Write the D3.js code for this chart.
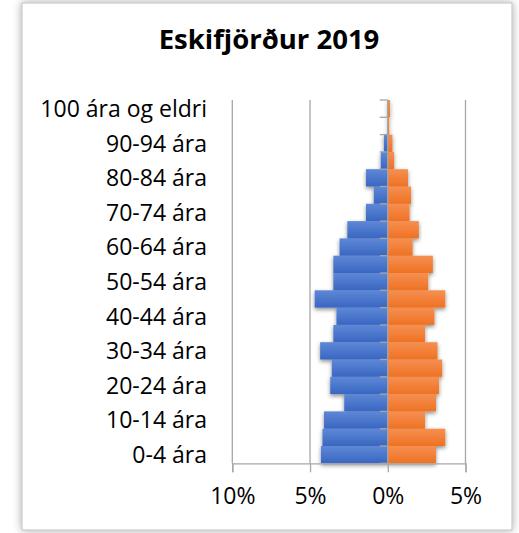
<!DOCTYPE html>
<html>
<head>
<meta charset="utf-8">
<script src="https://cdn.jsdelivr.net/npm/d3@7"></script>
<style>
  body { margin: 0; background: #ffffff; }
  text { font-family: 'Open Sans', sans-serif; }
</style>
</head>
<body>
<svg width="519" height="533"></svg>
<script>
// Data (share of population, %), from youngest to oldest
const age_groups = ['0-4 ára', '5-9 ára', '10-14 ára', '15-19 ára', '20-24 ára', '25-29 ára',
    '30-34 ára', '35-39 ára', '40-44 ára', '45-49 ára', '50-54 ára', '55-59 ára', '60-64 ára',
    '65-69 ára', '70-74 ára', '75-79 ára', '80-84 ára', '85-89 ára', '90-94 ára', '95-99 ára',
    '100 ára og eldri'];
const male = [4.3, 4.2, 4.1, 2.8, 3.7, 3.6, 4.35, 3.5, 3.3, 4.7, 3.5, 3.5, 3.1,
    2.6, 1.4, 0.9, 1.4, 0.45, 0.25, 0, 0];
const female = [3.1, 3.7, 2.4, 3.1, 3.3, 3.5, 3.2, 2.4, 3.0, 3.7, 2.6, 2.9, 1.6,
    2.0, 1.4, 1.5, 1.3, 0.4, 0.3, 0.1, 0.15];
const x_ticks = [-10, -5, 0, 5];
const chart_title = 'Eskifjörður 2019';

// Constants
const svg = d3.select('svg');
const width = +svg.attr('width');
const height = +svg.attr('height');
const plot = { left: 232.3, right: 465.5, top: 100, bottom: 463.3 };
const grid_color = '#a6a6a6';

const defs = svg.append('defs');
const frame_shadow = defs.append('filter').attr('id', 'frame-shadow')
    .attr('x', '-10%').attr('y', '-10%').attr('width', '120%').attr('height', '120%');
frame_shadow.append('feDropShadow')
    .attr('dx', 0).attr('dy', 0).attr('stdDeviation', 4)
    .attr('flood-color', '#000').attr('flood-opacity', 0.35);

const bar_shadow = defs.append('filter').attr('id', 'bar-shadow')
    .attr('x', '-20%').attr('y', '-40%').attr('width', '140%').attr('height', '180%');
bar_shadow.append('feDropShadow')
    .attr('dx', 0).attr('dy', 2).attr('stdDeviation', 2)
    .attr('flood-color', '#000').attr('flood-opacity', 0.45);

const gradients = [
    { id: 'grad-male', top: '#5e88d6', bottom: '#3966c2' },
    { id: 'grad-female', top: '#f68f52', bottom: '#ee7222' }
];
gradients.forEach(g => {
    const lg = defs.append('linearGradient').attr('id', g.id)
        .attr('x1', 0).attr('y1', 0).attr('x2', 0).attr('y2', 1);
    lg.append('stop').attr('offset', '0%').attr('stop-color', g.top);
    lg.append('stop').attr('offset', '100%').attr('stop-color', g.bottom);
});

// Frame
svg.append('rect')
    .attr('x', 22).attr('y', 3)
    .attr('width', 490).attr('height', 527)
    .attr('fill', '#ffffff')
    .attr('stroke', '#bfbfbf')
    .attr('stroke-width', 1)
    .attr('filter', 'url(#frame-shadow)');

// Title
svg.append('text')
    .attr('x', 269)
    .attr('y', 49)
    .attr('text-anchor', 'middle')
    .attr('font-size', '27.5px')
    .attr('font-weight', 'bold')
    .attr('fill', '#000')
    .text(chart_title);

// Scales
const xScale = d3.scaleLinear()
    .domain([-10, 5])
    .range([plot.left, plot.right]);

const yScale = d3.scaleBand()
    .domain(age_groups)
    .range([plot.bottom, plot.top])
    .padding(0);

// Gridlines
svg.append('g')
    .selectAll('line')
    .data(x_ticks)
    .enter().append('line')
    .attr('x1', d => xScale(d)).attr('x2', d => xScale(d))
    .attr('y1', plot.top).attr('y2', plot.bottom)
    .attr('stroke', grid_color)
    .attr('stroke-width', 1.3);

// Bars
const rows = age_groups.map((g, i) => ({ group: g, male: male[i], female: female[i] }));
const bars = svg.append('g').attr('filter', 'url(#bar-shadow)');
bars.selectAll('.bar-male')
    .data(rows)
    .enter().append('rect')
    .attr('class', 'bar-male')
    .attr('x', d => xScale(-d.male))
    .attr('y', d => yScale(d.group))
    .attr('width', d => xScale(0) - xScale(-d.male))
    .attr('height', yScale.bandwidth())
    .attr('fill', 'url(#grad-male)');
bars.selectAll('.bar-female')
    .data(rows)
    .enter().append('rect')
    .attr('class', 'bar-female')
    .attr('x', xScale(0))
    .attr('y', d => yScale(d.group))
    .attr('width', d => xScale(d.female) - xScale(0))
    .attr('height', yScale.bandwidth())
    .attr('fill', 'url(#grad-female)');

// Category axis at 0%
const cat_axis = svg.append('g')
    .attr('transform', `translate(${xScale(0)}, 0)`);
cat_axis.append('line')
    .attr('y1', plot.top).attr('y2', plot.bottom)
    .attr('stroke', grid_color).attr('stroke-width', 1.3);
const boundaries = age_groups.map(g => yScale(g)).concat([plot.bottom]);
cat_axis.selectAll('.cat-tick')
    .data(boundaries)
    .enter().append('line')
    .attr('class', 'cat-tick')
    .attr('x1', -8).attr('x2', 0)
    .attr('y1', d => d).attr('y2', d => d)
    .attr('stroke', grid_color).attr('stroke-width', 1.3);

// Category labels (every second group)
svg.append('g')
    .selectAll('text')
    .data(age_groups.filter((g, i) => i % 2 === 0))
    .enter().append('text')
    .attr('x', 207)
    .attr('y', d => yScale(d) + yScale.bandwidth() / 2)
    .attr('dy', '0.36em')
    .attr('text-anchor', 'end')
    .attr('font-size', '23px')
    .attr('fill', '#000')
    .text(d => d);

// Value axis
const x_axis = svg.append('g')
    .attr('transform', `translate(0, ${plot.bottom})`)
    .call(d3.axisBottom(xScale)
        .tickValues(x_ticks)
        .tickSize(9)
        .tickPadding(15)
        .tickFormat(d => `${Math.abs(d)}%`));
x_axis.select('.domain').attr('stroke', grid_color).attr('stroke-width', 1.3);
x_axis.selectAll('.tick line').attr('stroke', grid_color).attr('stroke-width', 1.3);
x_axis.selectAll('.tick text')
    .attr('font-family', "'Open Sans', sans-serif")
    .attr('font-size', '23px')
    .attr('fill', '#000');
</script>
</body>
</html>
